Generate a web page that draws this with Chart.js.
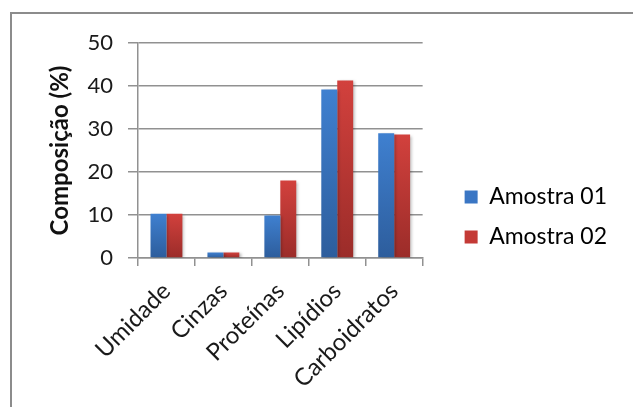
<!DOCTYPE html>
<html>
<head>
<meta charset="utf-8">
<script src="https://cdn.jsdelivr.net/npm/chart.js@4/dist/chart.umd.min.js"></script>
<style>
  html, body { margin: 0; padding: 0; background: #fff; overflow: hidden; }
  #wrap { position: relative; width: 633px; height: 407px; }
  #frame {
    position: absolute; left: 10px; top: 12px; width: 700px; height: 500px;
    border-left: 2px solid #8c8c8c; border-top: 2px solid #8c8c8c;
    pointer-events: none;
  }
  canvas { position: absolute; left: 0; top: 0; }
</style>
</head>
<body>
<div id="wrap">
  <canvas id="chart" width="633" height="407"></canvas>
  <div id="frame"></div>
</div>
<script>
// Composição centesimal das duas amostras (%)
const categories = ['Umidade', 'Cinzas', 'Proteínas', 'Lipídios', 'Carboidratos'];
const amostra01 = [10.3, 1.3, 9.9, 39.2, 29.0];
const amostra02 = [10.3, 1.3, 18.0, 41.3, 28.7];
const seriesNames = ['Amostra 01', 'Amostra 02'];
const yTicks = [0, 10, 20, 30, 40, 50];

const FONT = 'Lato, "Open Sans", sans-serif';

// vertical gradient per bar, lighter at the top
function barFill(top, bottom) {
  return (ctx) => {
    const chart = ctx.chart;
    if (!chart.chartArea || ctx.type !== 'data') return top;
    const y = chart.scales.y;
    const y0 = y.getPixelForValue(0);
    const y1 = y.getPixelForValue(ctx.raw);
    if (!isFinite(y0) || !isFinite(y1) || y0 === y1) return top;
    const g = chart.ctx.createLinearGradient(0, y1, 0, y0);
    g.addColorStop(0, top);
    g.addColorStop(1, bottom);
    return g;
  };
}

// soft drop shadow behind the bars
const barShadow = {
  id: 'barShadow',
  beforeDatasetsDraw(chart) {
    const c = chart.ctx;
    c.save();
    c.shadowColor = 'rgba(0,0,0,0.28)';
    c.shadowBlur = 3;
    c.shadowOffsetX = 2;
    c.shadowOffsetY = 1;
  },
  afterDatasetsDraw(chart) { chart.ctx.restore(); }
};

new Chart(document.getElementById('chart'), {
  type: 'bar',
  data: {
    labels: categories,
    datasets: [
      {
        label: seriesNames[0],
        data: amostra01,
        backgroundColor: barFill('#3f80d0', '#2d5d9c'),
        borderWidth: 0
      },
      {
        label: seriesNames[1],
        data: amostra02,
        backgroundColor: barFill('#d2413d', '#9b2c29'),
        borderWidth: 0
      }
    ]
  },
  options: {
    responsive: false,
    animation: false,
    barPercentage: 1.0,
    categoryPercentage: 0.56,
    layout: { padding: { left: 10, right: 16, top: 43, bottom: 16 } },
    plugins: {
      tooltip: { enabled: false },
      legend: {
        position: 'right',
        align: 'center',
        maxWidth: 400,
        labels: {
          boxWidth: 13,
          boxHeight: 13,
          padding: 17,
          color: '#1a1a1a',
          font: { family: FONT, size: 23 },
          generateLabels(chart) {
            return chart.data.datasets.map((ds, i) => ({
              text: ds.label,
              fillStyle: i === 0 ? '#3a76c4' : '#c43a36',
              strokeStyle: 'rgba(0,0,0,0)',
              lineWidth: 0,
              hidden: false,
              datasetIndex: i
            }));
          }
        }
      }
    },
    scales: {
      x: {
        grid: {
          display: true,
          drawOnChartArea: false,
          drawTicks: true,
          tickLength: 8,
          color: '#919191',
          lineWidth: 1.5,
          offset: true
        },
        border: { display: true, color: '#919191', width: 1.5 },
        ticks: {
          autoSkip: false,
          minRotation: 45,
          maxRotation: 45,
          padding: 11,
          color: '#1a1a1a',
          font: { family: FONT, size: 24 }
        },
        afterFit(s) { s.height = 133; }
      },
      y: {
        min: 0,
        max: 50,
        afterBuildTicks(s) { s.ticks = yTicks.map(v => ({ value: v })); },
        grid: {
          color: '#919191',
          lineWidth: 1.5,
          drawTicks: true,
          tickLength: 10
        },
        border: { display: true, color: '#919191', width: 1.5 },
        ticks: {
          padding: 15,
          color: '#1a1a1a',
          font: { family: FONT, size: 22 }
        },
        title: {
          display: true,
          text: 'Composição (%)',
          color: '#111',
          font: { family: FONT, size: 24, weight: 'bold' },
          padding: { top: 36, bottom: 0 }
        },
        afterFit(s) { s.width = 128; }
      },
      gap: {
        type: 'linear',
        position: 'right',
        display: true,
        grid: { display: false, drawTicks: false },
        border: { display: false },
        ticks: { display: false },
        afterFit(s) { s.width = 25; }
      }
    }
  },
  plugins: [barShadow]
});
</script>
</body>
</html>
